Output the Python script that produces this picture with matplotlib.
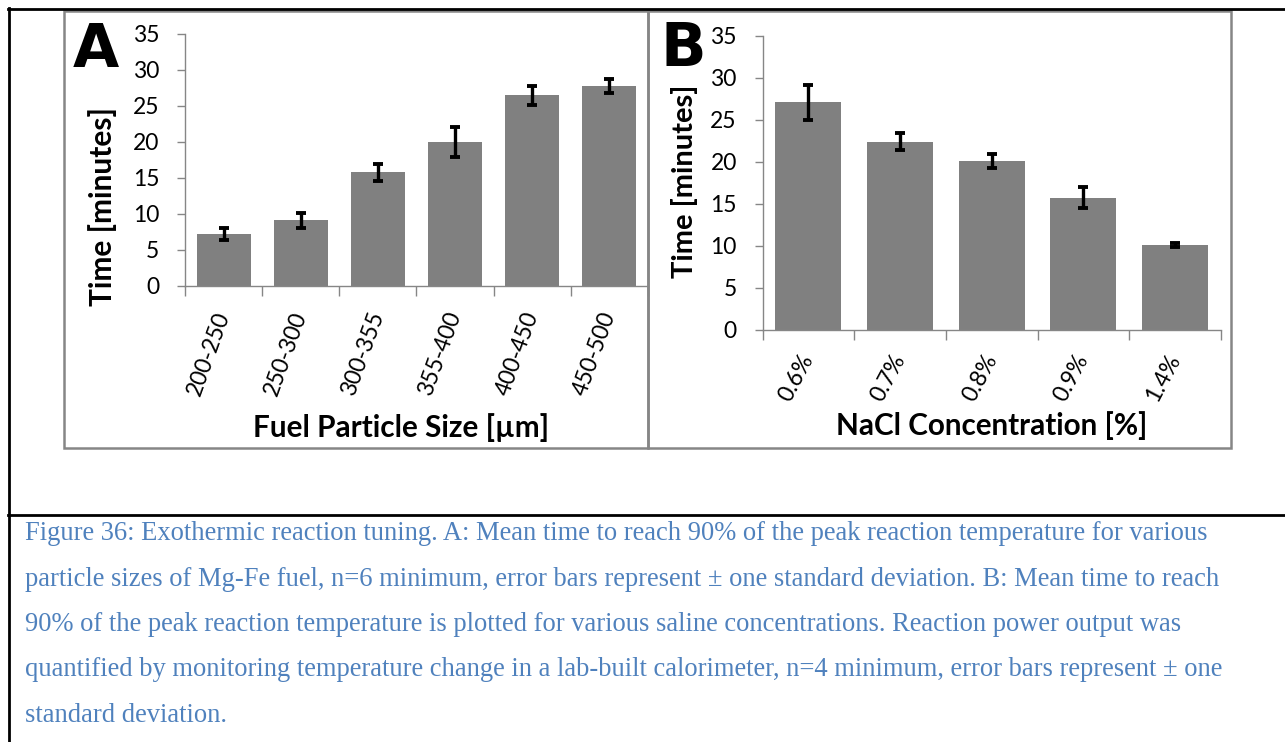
import numpy as np
import matplotlib
matplotlib.use('Agg')
import matplotlib.pyplot as plt
import matplotlib.transforms as mtransforms
from matplotlib.patches import Rectangle
from matplotlib.lines import Line2D

# panel A: fuel particle size
size_labels = ['200-250', '250-300', '300-355', '355-400', '400-450', '450-500']
size_times = [7.2, 9.1, 15.8, 20.0, 26.5, 27.8]
size_err = [0.85, 1.0, 1.2, 2.1, 1.3, 1.0]

# panel B: NaCl concentration
nacl_labels = ['0.6%', '0.7%', '0.8%', '0.9%', '1.4%']
nacl_times = [27.1, 22.4, 20.1, 15.7, 10.1]
nacl_err = [2.1, 1.0, 0.85, 1.25, 0.25]

caption_lines = [
    'Figure 36: Exothermic reaction tuning. A: Mean time to reach 90% of the peak reaction temperature for various',
    'particle sizes of Mg-Fe fuel, n=6 minimum, error bars represent \u00b1 one standard deviation. B: Mean time to reach',
    '90% of the peak reaction temperature is plotted for various saline concentrations. Reaction power output was',
    'quantified by monitoring temperature change in a lab-built calorimeter, n=4 minimum, error bars represent \u00b1 one',
    'standard deviation.',
]

W, H = 1285, 742
fig = plt.figure(figsize=(W / 100, H / 100), dpi=100)

SANS = ['Lato', 'DejaVu Sans']
GRAY = '#868686'


def fx(x):
    return x / W


def fy(y):
    return 1 - y / H


def hline(x0, x1, y, color='black', lw=2):
    fig.add_artist(Line2D([fx(x0), fx(x1)], [fy(y), fy(y)], transform=fig.transFigure,
                          color=color, lw=lw))


def vline(x, y0, y1, color='black', lw=2):
    fig.add_artist(Line2D([fx(x), fx(x)], [fy(y0), fy(y1)], transform=fig.transFigure,
                          color=color, lw=lw))


# page frame lines
hline(8, W, 8.5, lw=2)
hline(8, W, 515, lw=2)
vline(9, 8, H, lw=2)

# panel boxes
for x0, x1 in [(64, 648), (648, 1231)]:
    fig.add_artist(Rectangle((fx(x0), fy(448)), fx(x1) - fx(x0), fy(11) - fy(448),
                             transform=fig.transFigure, fill=False, ec=GRAY, lw=1.8))


def bar_panel(x0, x1, y_top, y_zero, labels, vals, errs, width, rot, shift=(0, 0)):
    ax = fig.add_axes([fx(x0), fy(y_zero), fx(x1) - fx(x0), fy(y_top) - fy(y_zero)])
    x = np.arange(len(vals))
    ax.bar(x, vals, width=width, color='#808080', zorder=2)
    ax.errorbar(x, vals, yerr=errs, fmt='none', ecolor='black', elinewidth=2.4,
                capsize=3.6, capthick=2.8, zorder=3)
    ax.set_xlim(-0.5, len(vals) - 0.5)
    ax.set_ylim(0, 35)
    ax.set_yticks(range(0, 36, 5))
    ax.set_xticks(x)
    ax.set_xticklabels(labels, rotation=rot, rotation_mode='anchor', ha='right', va='center',
                       family=SANS, fontsize=16.5)
    off = mtransforms.ScaledTranslation(shift[0] / 100, -shift[1] / 100, fig.dpi_scale_trans)
    for lab in ax.get_xticklabels():
        lab.set_transform(lab.get_transform() + off)
    ax.set_xticks(np.arange(-0.5, len(vals), 1), minor=True)
    ax.tick_params(axis='x', which='major', length=0, pad=19)
    ax.tick_params(axis='x', which='minor', length=7, color=GRAY, width=1)
    ax.tick_params(axis='y', length=5.5, color=GRAY, width=1, pad=13, labelsize=16.5)
    for lab in ax.get_yticklabels():
        lab.set_family(SANS)
    for s in ['top', 'right']:
        ax.spines[s].set_visible(False)
    for s in ['left', 'bottom']:
        ax.spines[s].set_color(GRAY)
        ax.spines[s].set_linewidth(1)
    ax.patch.set_alpha(0)
    return ax


bar_panel(185, 648, 34, 286, size_labels, size_times, size_err, 0.70, 70)
bar_panel(762.5, 1221, 36, 329.5, nacl_labels, nacl_times, nacl_err, 0.72, 62, shift=(6, 4))

# axis titles and panel letters
fig.text(fx(103), fy(206), 'Time [minutes]', rotation=90, ha='center', va='center',
         family=SANS, fontweight='bold', fontsize=21.5)
fig.text(fx(684), fy(181), 'Time [minutes]', rotation=90, ha='center', va='center',
         family=SANS, fontweight='bold', fontsize=21)
fig.text(fx(401), fy(428), 'Fuel Particle Size [\u00b5m]', ha='center', va='center',
         family=SANS, fontweight='bold', fontsize=21.4)
fig.text(fx(992), fy(426), 'NaCl Concentration [%]', ha='center', va='center',
         family=SANS, fontweight='bold', fontsize=21.3)
fig.text(fx(73), fy(67), 'A', ha='left', va='baseline', family='DejaVu Sans',
         fontweight='bold', fontsize=43)
fig.text(fx(661), fy(66), 'B', ha='left', va='baseline', family='DejaVu Sans',
         fontweight='bold', fontsize=43)

# caption
for i, line in enumerate(caption_lines):
    fig.text(fx(25), fy(540 + 45.5 * i), line, ha='left', va='baseline',
             family='Liberation Serif', fontsize=19.1, color='#4F81BD')

fig.savefig('out.png', dpi=100)
